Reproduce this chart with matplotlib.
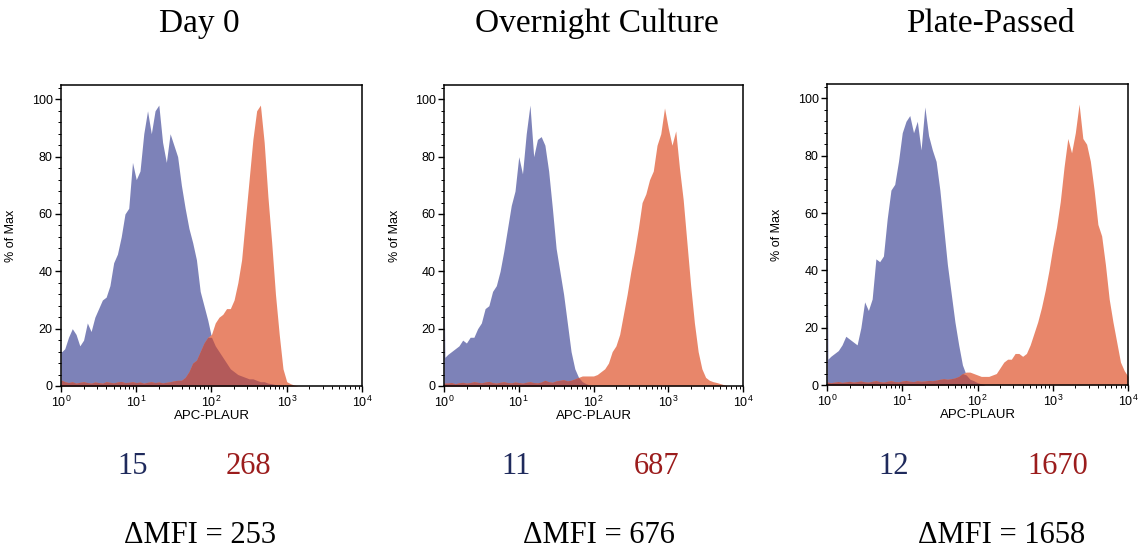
import numpy as np
import matplotlib
matplotlib.use("Agg")
import matplotlib.pyplot as plt
from matplotlib.ticker import LogLocator, MultipleLocator, NullFormatter

# ---------------- data ----------------
# log10(APC-PLAUR) positions of the histogram samples
LOG_BINS = [0.0, 0.012] + [round(0.05 * i, 2) for i in range(1, 81)]

PANEL_TITLES = ["Day 0", "Overnight Culture", "Plate-Passed"]
CONTROL_MFI = ["15", "11", "12"]
STAINED_MFI = ["268", "687", "1670"]
DELTA_MFI = ["253", "676", "1658"]

day0_control = [12, 12,
    13, 17, 20, 18, 14, 16, 22, 19, 24, 27, 30, 31, 35, 43, 46, 52, 60, 62, 78, 72, 75, 88, 96, 88,
    96, 98, 85, 78, 88, 84, 80, 70, 62, 55, 50, 44, 33, 28, 23, 17, 14, 12, 10, 8, 6, 5, 4, 3.5, 3,
    2.5, 2.5, 2, 1.5, 1.5, 1, 0.8, 0.5, 0.3,
    0, 0, 0, 0, 0, 0, 0, 0, 0, 0, 0, 0, 0, 0, 0, 0, 0, 0, 0, 0, 0, 0]
day0_stained = [2, 2,
    1.5, 1.2, 1.5, 1.0, 1.3, 1.5, 1.2, 1.0, 1.4, 1.2, 1.0, 1.5, 1.3, 1.1, 1.4, 1.6, 1.2, 1.3, 1.5, 1.2,
    1.4, 1.0, 1.3, 1.5, 1.2, 1.4, 1.1, 1.3, 1.5, 1.8, 2.0,
    2, 3, 5, 8, 9, 12, 15, 17, 18, 22, 24, 25, 27, 27, 30, 36, 44, 58, 72, 86, 96, 98, 85, 66, 50,
    32, 18, 6, 1.5, 0.8, 0.3,
    0, 0, 0, 0, 0, 0, 0, 0, 0, 0, 0, 0, 0, 0, 0, 0, 0, 0]

overnight_control = [38, 10,
    11, 12, 13, 14, 16, 15, 17, 17, 20, 22, 27, 28, 33, 35, 40, 47, 55, 63, 68, 80, 74, 88, 98, 80,
    86, 87, 84, 75, 62, 48, 40, 32, 22, 12, 6, 3, 1.5, 0.8, 0.3,
    0, 0, 0, 0, 0, 0, 0, 0, 0, 0, 0, 0, 0, 0, 0, 0, 0, 0, 0, 0, 0, 0, 0, 0, 0, 0, 0, 0, 0, 0, 0, 0,
    0, 0, 0, 0, 0, 0, 0, 0, 0]
overnight_stained = [1, 1,
    1.0, 1.2, 0.8, 1.1, 1.3, 1.0, 1.2, 1.5, 1.3, 1.1, 1.4, 1.6, 1.2, 1.0, 1.3, 1.5, 1.2, 1.1, 1.4,
    1.2, 1.0, 1.3, 1.5, 1.2, 1.1, 1.4, 2.0, 1.5, 1.3,
    1.8, 2.0, 2.2, 1.8, 2.0, 2.5, 3.0, 3.5, 3.5, 3.5, 3.5, 4, 5, 6, 8, 12, 14, 18, 25, 32, 40, 47,
    55, 64, 67, 72, 75, 84, 88, 97, 90, 84, 89, 76, 65, 50, 35, 22, 12, 6, 3, 2, 1.5, 1.2, 0.8, 0.4,
    0, 0, 0, 0, 0]

plate_control = [78, 9,
    10, 11, 12, 14, 17, 16, 15, 14, 20, 29, 26, 30, 44, 43, 45, 58, 68, 70, 78, 88, 92, 94, 88, 92,
    82, 97, 87, 82, 78, 68, 55, 42, 32, 22, 14, 7, 3.5, 2, 1.5, 0.8, 0.4,
    0, 0, 0, 0, 0, 0, 0, 0, 0, 0, 0, 0, 0, 0, 0, 0, 0, 0, 0, 0, 0, 0, 0, 0, 0, 0, 0, 0, 0, 0, 0, 0,
    0, 0, 0, 0, 0, 0, 0]
plate_stained = [1, 1,
    0.8, 1.0, 1.2, 0.9, 1.1, 1.3, 1.0, 1.2, 1.4, 1.1, 1.0, 1.3, 1.5, 1.2, 1.0, 1.3, 1.5, 1.2, 1.1,
    1.4, 1.6, 1.3, 1.2, 1.5, 1.3, 1.4, 1.6, 1.5, 1.7, 2.0, 2.2,
    2, 2.2, 2.5, 3, 4, 4.5, 4.5, 4, 3.5, 3, 3, 3, 3.5, 4, 6, 8, 9, 9, 11, 11, 10, 11, 14, 18, 22,
    27, 33, 40, 48, 55, 64, 76, 86, 81, 88, 98, 86, 84, 78, 68, 56, 52, 42, 30, 22, 15, 8, 5, 3]

CONTROLS = [day0_control, overnight_control, plate_control]
STAINED = [day0_stained, overnight_stained, plate_stained]

# ---------------- style ----------------
BLUE = "#7d82b8"
ORANGE = "#e8866a"
OVERLAP = "#b35a5a"
NAVY = "#1f2a5c"
DARKRED = "#9b1c1c"

plt.rcParams["font.family"] = ["Liberation Sans", "DejaVu Sans"]
plt.rcParams["mathtext.default"] = "regular"
SERIF = ["Liberation Serif", "DejaVu Serif"]

W, H = 1141, 550
fig = plt.figure(figsize=(W / 100, H / 100), dpi=100)

# axes boxes in pixels: left, top, right, bottom
boxes = [(61, 85, 362, 386), (444, 85, 743, 386), (827, 84, 1128, 385)]
title_x = [199, 597, 990]
ctrl_x = [133, 516, 894]
stain_x = [248, 657, 1058]
delta_x = [200, 599, 1002]

x = 10 ** np.array(LOG_BINS)

for i in range(3):
    l, t, r, b = boxes[i]
    ax = fig.add_axes([l / W, (H - b) / H, (r - l) / W, (b - t) / H])
    c = np.array(CONTROLS[i], dtype=float)
    s = np.array(STAINED[i], dtype=float)
    assert len(c) == len(x) and len(s) == len(x)
    ax.fill_between(x, 0, c, color=BLUE, linewidth=0)
    ax.fill_between(x, 0, s, color=ORANGE, linewidth=0)
    ax.fill_between(x, 0, np.minimum(c, s), color=OVERLAP, linewidth=0)
    ax.set_xscale("log")
    ax.set_xlim(1, 1e4)
    ax.set_ylim(0, 105)
    ax.set_yticks([0, 20, 40, 60, 80, 100])
    ax.yaxis.set_minor_locator(MultipleLocator(4))
    ax.xaxis.set_major_locator(LogLocator(base=10, numticks=10))
    ax.xaxis.set_minor_locator(LogLocator(base=10, subs=np.arange(2, 10), numticks=20))
    ax.xaxis.set_minor_formatter(NullFormatter())
    ax.tick_params(which="major", direction="out", length=4, width=1, labelsize=9, pad=2)
    ax.tick_params(which="minor", direction="out", length=2, width=0.7)
    for sp in ax.spines.values():
        sp.set_linewidth(1.1)
        sp.set_color("black")
    ax.set_xlabel("APC-PLAUR", fontsize=9.5, labelpad=0)
    ax.set_ylabel("% of Max", fontsize=9)
    ax.yaxis.set_label_coords(-0.145, 0.5)

    fig.text(title_x[i] / W, (H - 32) / H, PANEL_TITLES[i], family=SERIF, fontsize=24,
             ha="center", va="baseline", color="black")
    fig.text(ctrl_x[i] / W, (H - 474) / H, CONTROL_MFI[i], family=SERIF, fontsize=22,
             ha="center", va="baseline", color=NAVY)
    fig.text(stain_x[i] / W, (H - 474) / H, STAINED_MFI[i], family=SERIF, fontsize=22,
             ha="center", va="baseline", color=DARKRED)
    fig.text(delta_x[i] / W, (H - 543) / H, "\u0394MFI = " + DELTA_MFI[i], family=SERIF,
             fontsize=22, ha="center", va="baseline", color="black")

fig.savefig("out.png", dpi=100)
